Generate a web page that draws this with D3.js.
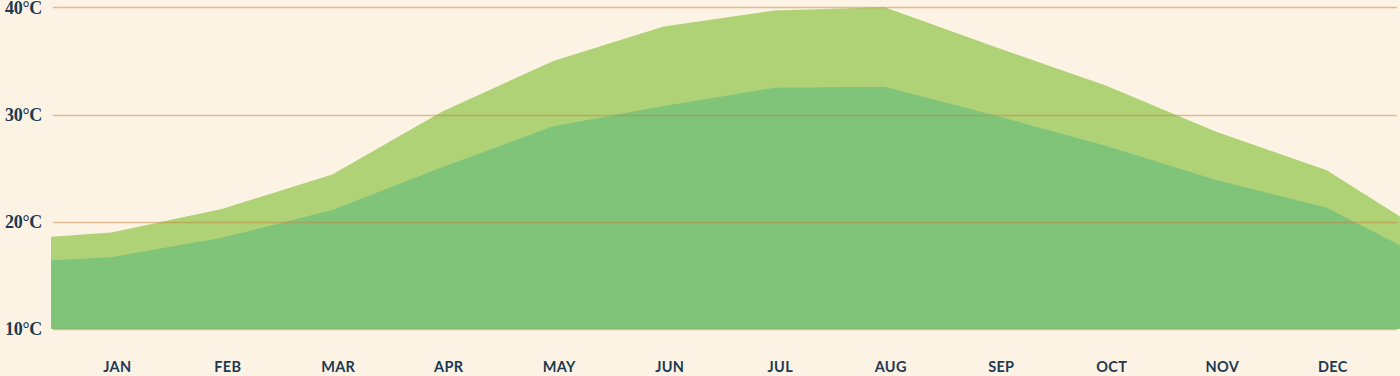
<!DOCTYPE html>
<html>
<head>
<meta charset="utf-8">
<script src="https://cdn.jsdelivr.net/npm/d3@7"></script>
<style>
  html, body { margin: 0; padding: 0; background: #fcf3e5; }
  svg { display: block; }
</style>
</head>
<body>
<script>
var width = 1400,
    height = 376;

var months = ["JAN", "FEB", "MAR", "APR", "MAY", "JUN", "JUL", "AUG", "SEP", "OCT", "NOV", "DEC"];

// average highs / lows per month (deg C)
var highs = [19.0, 21.2, 24.4, 30.3, 35.0, 38.2, 39.7, 40.0, 36.3, 32.7, 28.4, 24.8];
var lows = [16.7, 18.5, 21.1, 25.1, 28.9, 30.8, 32.5, 32.6, 29.9, 27.1, 23.9, 21.3];

// values at the left / right edge of the plot
var highEdges = [18.6, 20.5];
var lowEdges = [16.4, 17.8];

var yTicks = [10, 20, 30, 40];

var plotLeft = 51,
    plotRight = 1400;

var xScale = d3.scaleBand()
  .domain(months)
  .range([62, 1388]);

var yScale = d3.scaleLinear()
  .domain([10, 40])
  .range([329, 7.3]);

function buildSeries(vals, edges) {
  var pts = [{x: plotLeft, v: edges[0]}];
  vals.forEach(function(v, i) {
    pts.push({x: xScale(months[i]) + xScale.bandwidth() / 2 - 6, v: v});
  });
  pts.push({x: plotRight, v: edges[1]});
  return pts;
}

var area = d3.area()
  .x(function(d) { return d.x; })
  .y0(yScale(10))
  .y1(function(d) { return yScale(d.v); });

var svg = d3.select("body")
  .append("svg")
  .attr("width", width)
  .attr("height", height);

svg.append("rect")
  .attr("width", width)
  .attr("height", height)
  .attr("fill", "#fcf3e5");

svg.append("path")
  .datum(buildSeries(highs, highEdges))
  .attr("d", area)
  .attr("fill", "#b0d277");

svg.append("path")
  .datum(buildSeries(lows, lowEdges))
  .attr("d", area)
  .attr("fill", "#80c47a");

// grid lines on top of the areas
svg.append("g")
  .selectAll("line")
  .data(yTicks)
  .enter()
  .append("line")
  .attr("x1", 53)
  .attr("x2", 1397)
  .attr("y1", function(d) { return Math.round(yScale(d)) + 0.5; })
  .attr("y2", function(d) { return Math.round(yScale(d)) + 0.5; })
  .attr("stroke", "#c48340")
  .attr("stroke-opacity", 0.5)
  .attr("stroke-width", 1.3);

var yAxis = d3.axisLeft(yScale)
  .tickValues(yTicks)
  .tickSize(0)
  .tickPadding(0)
  .tickFormat(function(d) { return d + "°C"; });

var gy = svg.append("g")
  .attr("transform", "translate(42,0)")
  .call(yAxis);
gy.select(".domain").remove();
gy.selectAll("text")
  .attr("fill", "#1d3a52")
  .attr("font-family", "'Liberation Serif', serif")
  .attr("font-weight", "bold")
  .attr("font-size", "18px")
  .attr("letter-spacing", "-0.3px");

var xAxis = d3.axisBottom(xScale)
  .tickSize(0)
  .tickPadding(0);

var gx = svg.append("g")
  .attr("transform", "translate(0,362)")
  .call(xAxis);
gx.select(".domain").remove();
gx.selectAll("text")
  .attr("fill", "#1d3a52")
  .attr("font-family", "Lato, sans-serif")
  .attr("font-weight", "bold")
  .attr("font-size", "14.5px")
  .attr("letter-spacing", "0.3px");
</script>
</body>
</html>
